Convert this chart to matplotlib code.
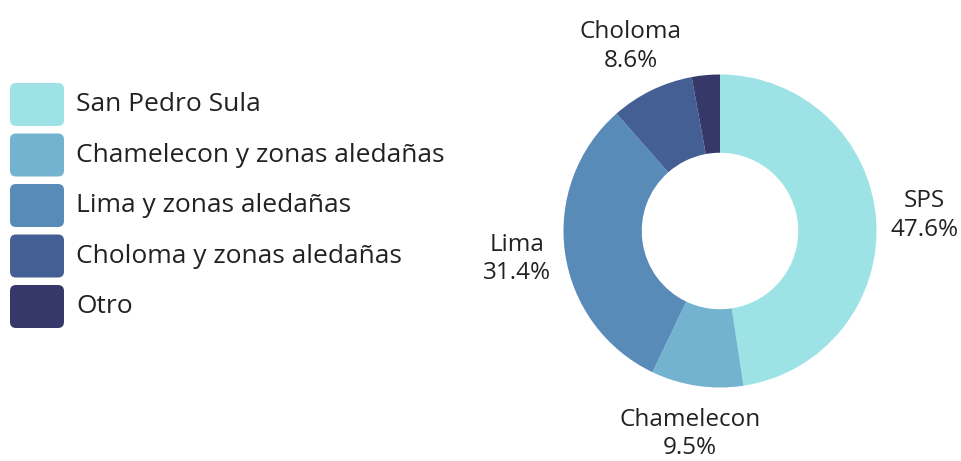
import numpy as np
import matplotlib
matplotlib.use('Agg')
import matplotlib.pyplot as plt
from matplotlib.patches import FancyBboxPatch

# zone shares, clockwise from 12 o'clock
zones = ['San Pedro Sula', 'Chamelecon y zonas aledañas', 'Lima y zonas aledañas',
         'Choloma y zonas aledañas', 'Otro']
short_names = ['SPS', 'Chamelecon', 'Lima', 'Choloma', None]
shares = [47.6, 9.5, 31.4, 8.6, 2.9]
colors = ['#9de3e6', '#74b3d0', '#588bb8', '#445f94', '#37386a']

plt.rcParams['font.family'] = ['Open Sans', 'DejaVu Sans']
text_color = '#222222'

fig = plt.figure(figsize=(9.62, 4.61), dpi=100)

# donut: centre at (720, 231) px, outer radius ~156 px
R_PX = 156.5
LIM = 1.5
side = 2 * LIM * R_PX
cx, cy = 720, 461 - 231
ax = fig.add_axes([(cx - side / 2) / 962, (cy - side / 2) / 461, side / 962, side / 461])
wedges, _ = ax.pie(shares, colors=colors, startangle=90, counterclock=False, radius=1,
                   wedgeprops=dict(width=0.5, edgecolor='none'))
ax.set_xlim(-LIM, LIM)
ax.set_ylim(-LIM, LIM)
ax.set_aspect('equal')
ax.axis('off')

for w, name, val in zip(wedges, short_names, shares):
    if name is None:
        continue
    ang = np.deg2rad((w.theta1 + w.theta2) / 2)
    r = 1.31
    ax.text(r * np.cos(ang), r * np.sin(ang), '%s\n%.1f%%' % (name, val),
            ha='center', va='center', fontsize=17.5, color=text_color,
            linespacing=1.25, clip_on=False)

# legend drawn in pixel space on an overlay axes
lax = fig.add_axes([0, 0, 1, 1])
lax.set_xlim(0, 962)
lax.set_ylim(461, 0)
lax.axis('off')
row_y = 104.5
row_step = 50.5
for i, (label, c) in enumerate(zip(zones, colors)):
    y = row_y + i * row_step
    box = FancyBboxPatch((10 + 6, y - 21.5 + 6), 54 - 12, 43 - 12,
                         boxstyle='round,pad=6', facecolor=c, edgecolor='none')
    lax.add_patch(box)
    lax.text(76, y, label, ha='left', va='center', fontsize=19, color=text_color)

fig.savefig('out.png', dpi=100, facecolor='white')
